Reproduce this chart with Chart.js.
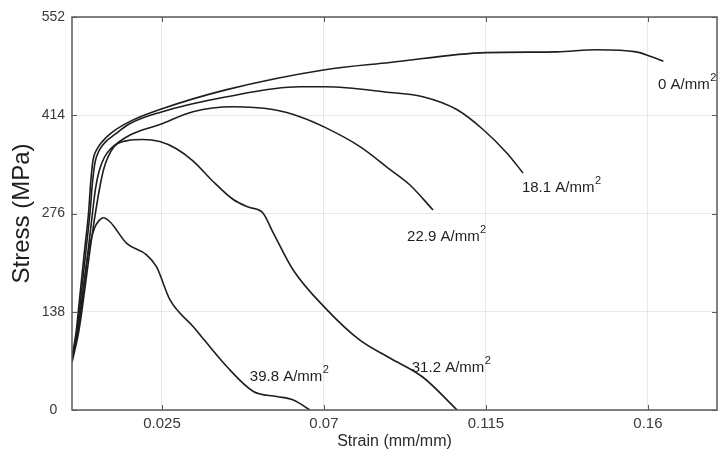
<!DOCTYPE html>
<html>
<head>
<meta charset="utf-8">
<script src="https://cdn.jsdelivr.net/npm/chart.js@4.4.0/dist/chart.umd.min.js"></script>
<style>
  html, body { margin: 0; padding: 0; background: #fff; }
  #wrap { width: 719px; height: 452px; position: relative; }
</style>
</head>
<body>
<div id="wrap"><canvas id="c"></canvas></div>
<script>
// ---- data ----
const xTickValues = [0.025, 0.07, 0.115, 0.16];
const xTickLabels = ['0.025', '0.07', '0.115', '0.16'];
const yTickValues = [0, 138, 276, 414, 552];
const yTickLabels = ['0', '138', '276', '414', '552'];

const seriesNames = ['0 A/mm', '18.1 A/mm', '22.9 A/mm', '31.2 A/mm', '39.8 A/mm'];

const strain0  = [0, 0.0012, 0.0018, 0.0035, 0.0046, 0.0052, 0.0058, 0.0069, 0.0086, 0.0106, 0.0160, 0.0244, 0.0430, 0.0703, 0.0883, 0.1150, 0.1347, 0.1458, 0.1568, 0.1606, 0.1643];
const stress0  = [73, 112, 141, 225, 277, 320, 350, 366, 378, 388, 405, 422, 450, 478, 488, 502, 503, 506, 503, 497, 490];

const strain18 = [0, 0.0014, 0.0021, 0.0039, 0.0050, 0.0057, 0.0064, 0.0076, 0.0094, 0.0119, 0.0160, 0.0244, 0.0430, 0.0633, 0.0703, 0.0883, 0.0975, 0.1069, 0.1142, 0.1208, 0.1253];
const stress18 = [71, 112, 141, 225, 277, 320, 348, 365, 377, 387, 402, 418, 440, 454, 454, 446, 440, 422, 394, 361, 333];

const strain22 = [0, 0.0016, 0.0025, 0.0045, 0.0057, 0.0065, 0.0075, 0.0090, 0.0106, 0.0160, 0.0244, 0.0336, 0.0447, 0.0558, 0.0633, 0.0703, 0.0800, 0.0883, 0.0939, 0.1003];
const stress22 = [69, 110, 141, 225, 277, 310, 335, 355, 366, 386, 401, 419, 426, 422, 412, 397, 370, 338, 316, 281];

const strain31 = [0, 0.0018, 0.0028, 0.0050, 0.0063, 0.0078, 0.0089, 0.0114, 0.0150, 0.0197, 0.0244, 0.0290, 0.0336, 0.0390, 0.0447, 0.0490, 0.0530, 0.0558, 0.0614, 0.0708, 0.0800, 0.0883, 0.0975, 0.1070];
const stress31 = [67, 108, 141, 225, 270, 315, 340, 368, 378, 380, 377, 367, 350, 322, 296, 285, 277, 250, 197, 141, 98, 73, 46, 0];

const strain39 = [0, 0.0015, 0.0024, 0.0045, 0.0062, 0.0075, 0.0087, 0.0106, 0.0152, 0.0207, 0.0235, 0.0272, 0.0337, 0.0430, 0.0504, 0.0569, 0.0615, 0.0661];
const stress39 = [72, 112, 141, 220, 255, 266, 270, 264, 234, 218, 201, 155, 117, 61, 26, 19, 14, 0];

// label anchors (left edge, vertical centre) in data units
const labelStrain = [0.1628, 0.1250, 0.0931, 0.0944, 0.0494];
const labelStress = [456, 312, 243, 59, 46];

// ---- build datasets ----
const strains = [strain0, strain18, strain22, strain31, strain39];
const stresses = [stress0, stress18, stress22, stress31, stress39];
const datasets = strains.map((s, i) => ({
  label: seriesNames[i] + '2',
  data: s.map((x, j) => ({ x: x, y: stresses[i][j] })),
  borderColor: '#1e1e1e',
  borderWidth: 1.6,
  pointRadius: 0,
  showLine: true,
  fill: false,
  cubicInterpolationMode: 'monotone'
}));

const FONT = "'Liberation Sans', Arial, Helvetica, sans-serif";
const BOX = '#5a5a5a';

const decorPlugin = {
  id: 'decor',
  afterDatasetsDraw(chart) {
    const ctx = chart.ctx;
    const a = chart.chartArea;
    const xs = chart.scales.x, ys = chart.scales.y;
    ctx.save();
    // box
    ctx.strokeStyle = BOX;
    ctx.lineWidth = 1.5;
    ctx.strokeRect(a.left, a.top, a.right - a.left, a.bottom - a.top);
    // inward tick marks
    ctx.lineWidth = 1;
    ctx.beginPath();
    xTickValues.forEach(v => {
      const px = Math.round(xs.getPixelForValue(v)) + 0.5;
      ctx.moveTo(px, a.bottom); ctx.lineTo(px, a.bottom - 5);
      ctx.moveTo(px, a.top); ctx.lineTo(px, a.top + 5);
    });
    yTickValues.forEach(v => {
      const py = Math.round(ys.getPixelForValue(v)) + 0.5;
      ctx.moveTo(a.left, py); ctx.lineTo(a.left + 5, py);
      ctx.moveTo(a.right, py); ctx.lineTo(a.right - 5, py);
    });
    ctx.stroke();
    // curve labels with superscript 2
    ctx.fillStyle = '#1e1e1e';
    ctx.textBaseline = 'middle';
    ctx.textAlign = 'left';
    seriesNames.forEach((t, i) => {
      const px = xs.getPixelForValue(labelStrain[i]);
      const py = ys.getPixelForValue(labelStress[i]);
      ctx.font = '15px ' + FONT;
      ctx.fillText(t, px, py);
      const w = ctx.measureText(t).width;
      ctx.font = '11px ' + FONT;
      ctx.fillText('2', px + w + 0.5, py - 7);
    });
    ctx.restore();
  }
};

new Chart(document.getElementById('c'), {
  type: 'scatter',
  data: { datasets: datasets },
  options: {
    responsive: true,
    maintainAspectRatio: false,
    animation: false,
    events: [],
    layout: { padding: { top: 17, right: 2, left: 0, bottom: 0 } },
    plugins: { legend: { display: false }, tooltip: { enabled: false } },
    scales: {
      x: {
        type: 'linear',
        min: 0,
        max: 0.1792,
        afterBuildTicks: s => { s.ticks = xTickValues.map(v => ({ value: v })); },
        afterFit: s => { s.height = 42; },
        ticks: {
          callback: (v) => xTickLabels[xTickValues.indexOf(v)],
          font: { family: FONT, size: 15 },
          color: '#3a3a3a',
          padding: 5,
          maxRotation: 0,
          autoSkip: false
        },
        grid: { color: 'rgba(0,0,0,0.09)', lineWidth: 1, drawTicks: false },
        border: { display: false },
        title: {
          display: true,
          text: 'Strain (mm/mm)',
          font: { family: FONT, size: 16 },
          color: '#2a2a2a',
          padding: { top: 0, bottom: 1 }
        }
      },
      y: {
        type: 'linear',
        min: 0,
        max: 552,
        afterBuildTicks: s => { s.ticks = yTickValues.map(v => ({ value: v })); },
        afterFit: s => { s.width = 72; },
        ticks: {
          callback: (v) => yTickLabels[yTickValues.indexOf(v)],
          font: { family: FONT, size: 14 },
          color: '#3a3a3a',
          padding: 7,
          crossAlign: 'center',
          autoSkip: false
        },
        grid: { color: 'rgba(0,0,0,0.09)', lineWidth: 1, drawTicks: false },
        border: { display: false },
        title: {
          display: true,
          text: 'Stress (MPa)',
          font: { family: FONT, size: 24 },
          color: '#1e1e1e',
          padding: { top: 8, bottom: 0 }
        }
      }
    }
  },
  plugins: [decorPlugin]
});
</script>
</body>
</html>
